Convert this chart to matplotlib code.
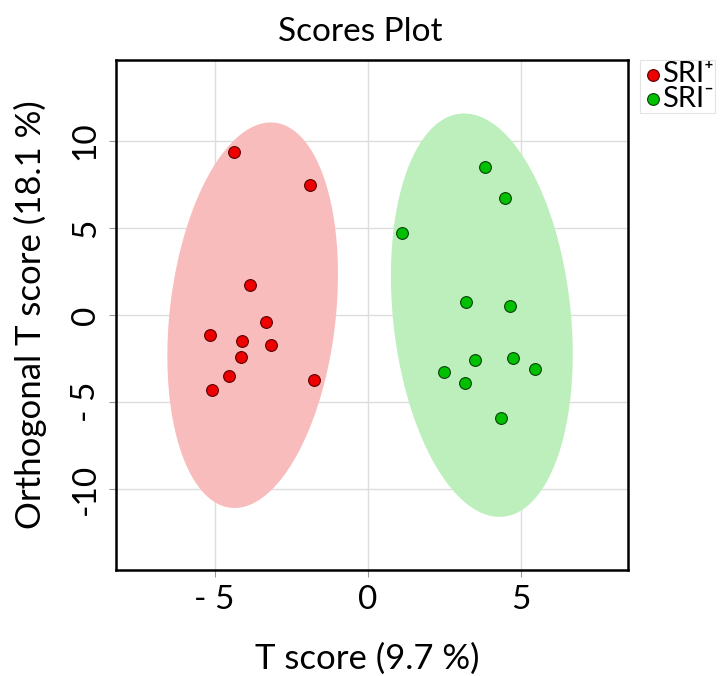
import matplotlib.pyplot as plt
import numpy as np
from matplotlib.patches import Polygon

plt.rcParams['font.family'] = ['Lato', 'DejaVu Sans']

# scores
pos_t = [-4.36, -1.88, -3.84, -3.33, -5.15, -4.09, -3.17, -4.13, -4.52, -5.08, -1.75]
pos_o = [9.39, 7.49, 1.72, -0.38, -1.15, -1.49, -1.74, -2.41, -3.51, -4.31, -3.75]
neg_t = [3.83, 4.48, 1.13, 3.22, 4.64, 3.51, 4.76, 5.46, 2.50, 3.18, 4.36]
neg_o = [8.49, 6.74, 4.72, 0.74, 0.50, -2.60, -2.46, -3.12, -3.30, -3.93, -5.89]

x_ticks = [-5, 0, 5]
x_labels = ["- 5", "0", "5"]
y_ticks = [-10, -5, 0, 5, 10]
y_labels = ["-10", "- 5", "0", "5", "10"]


def conf_ellipse(x, y, scale=2.4477, n=200):
    # 95% ellipse from the group covariance
    pts = np.column_stack([x, y])
    c = pts.mean(axis=0)
    L = np.linalg.cholesky(np.cov(pts.T))
    t = np.linspace(0, 2 * np.pi, n)
    circ = np.vstack([np.cos(t), np.sin(t)]) * scale
    return (L @ circ).T + c


fig = plt.figure(figsize=(7.28, 6.76), dpi=100)
ax = fig.add_axes([116 / 728, 1 - 570 / 676, 512 / 728, 510 / 676])

ax.add_patch(Polygon(conf_ellipse(pos_t, pos_o), closed=True,
                     facecolor="#f9bcbc", edgecolor="none", zorder=1))
ax.add_patch(Polygon(conf_ellipse(neg_t, neg_o), closed=True,
                     facecolor="#bdefbd", edgecolor="none", zorder=1))

ax.scatter(pos_t, pos_o, s=72, color="#ee0000", edgecolor="#5a0000",
           linewidth=0.8, zorder=3, label="SRI\u207a")
ax.scatter(neg_t, neg_o, s=72, color="#00c000", edgecolor="#0a400a",
           linewidth=0.8, zorder=3, label="SRI\u207b")

ax.set_xlim(-8.22, 8.51)
ax.set_ylim(-14.65, 14.65)
ax.set_xticks(x_ticks)
ax.set_xticklabels(x_labels, fontsize=24)
ax.set_yticks(y_ticks)
ax.set_yticklabels(y_labels, fontsize=24, rotation=90, va="center")
ax.grid(True, color="#dddddd", linewidth=1.0, zorder=0)
ax.set_axisbelow(True)
ax.tick_params(length=5, color="#999999", pad=6)
for s in ax.spines.values():
    s.set_linewidth(1.8)

ax.set_title("Scores Plot", fontsize=24, pad=14, x=0.477)
ax.set_xlabel("T score (9.7 %)", fontsize=25, labelpad=20, x=0.49)
ax.set_ylabel("Orthogonal T score (18.1 %)", fontsize=25, labelpad=17)

leg = fig.legend(loc="upper left", bbox_to_anchor=(640 / 728, 1 - 60 / 676),
                 fontsize=21, frameon=True, handletextpad=-0.1, borderpad=0.05,
                 labelspacing=-0.05, handlelength=0.8, borderaxespad=0.0,
                 fancybox=False, markerscale=1.0)
leg.get_frame().set_edgecolor("#dddddd")
leg.get_frame().set_linewidth(0.8)

fig.savefig("out.png", dpi=100)
